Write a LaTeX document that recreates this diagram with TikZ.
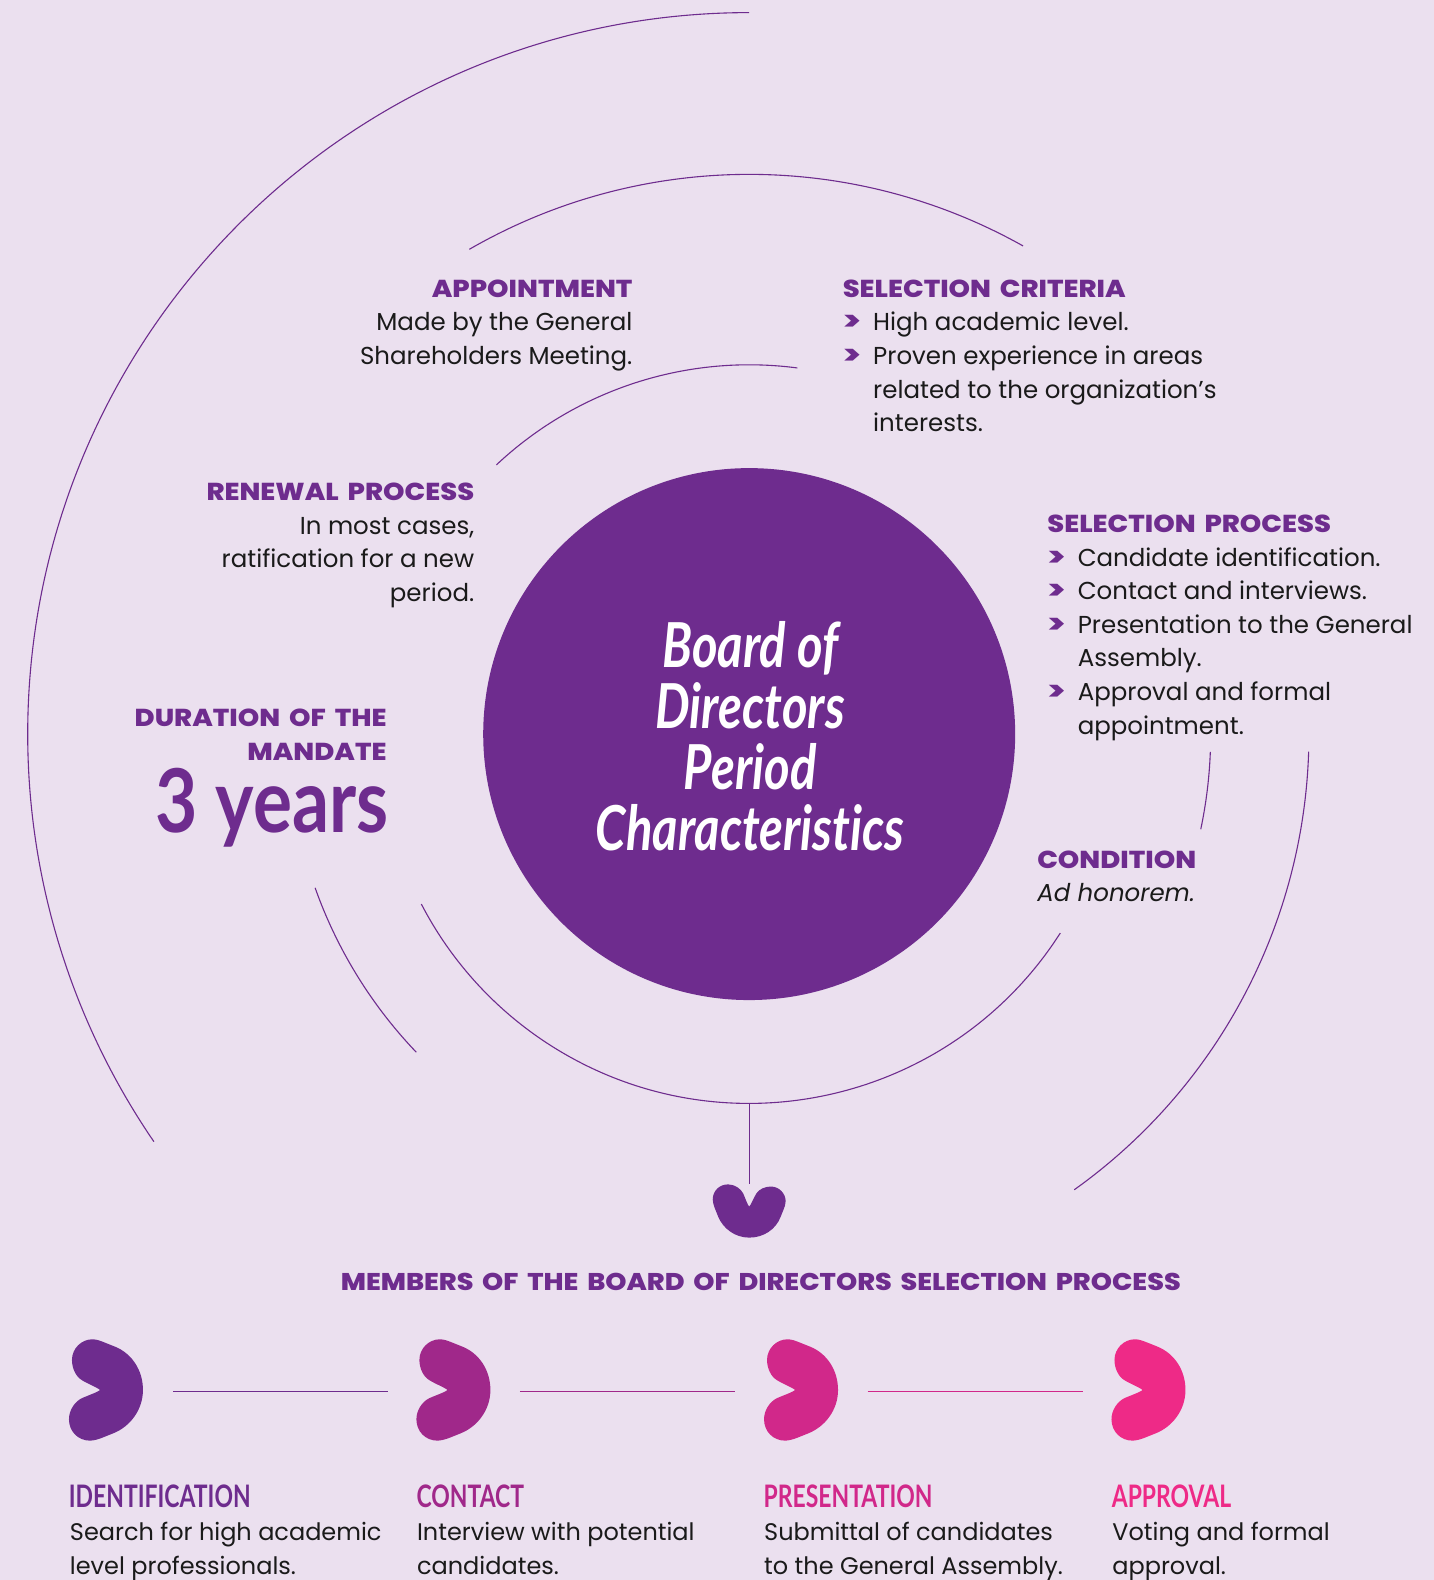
\documentclass[tikz,border=0pt]{standalone}
\usepackage{fontspec}
\setmainfont{Poppins}[ItalicFont=Poppins Italic]
\newfontfamily\hdfont[FakeStretch=1.115,WordSpace=1.7]{Poppins ExtraBold}
\newfontfamily\bulfont[BoldFont=Poppins ExtraBold,FakeStretch=1.3]{Poppins}
\newfontfamily\condfont[FakeStretch=0.83,Ligatures={NoCommon}]{Lato Bold}
\newfontfamily\stepfont[FakeStretch=0.74,Ligatures={NoCommon}]{Lato Bold}
\newfontfamily\condital[FakeStretch=0.79,Ligatures={NoCommon}]{Lato Bold Italic}
\definecolor{bgc}{HTML}{EBE0EF}
\definecolor{pur}{HTML}{6E2C8E}
\definecolor{pb}{HTML}{A0288A}
\definecolor{pc}{HTML}{D1288A}
\definecolor{pd}{HTML}{EE2A87}
\definecolor{ink}{HTML}{1A1A1A}
\newcommand{\blobpath}{(0,0) .. controls (-5,-6) and (-40,-20) .. (-55,-30)
 .. controls (-72,-40) and (-84,-65) .. (-84,-90)
 .. controls (-84,-125) and (-55,-152) .. (-23,-152)
 .. controls (-10,-152) and (0,-148) .. (15,-142)
 -- (45,-130)
 .. controls (95,-110) and (129,-60) .. (129,0)
 .. controls (129,60) and (90,110) .. (40,130)
 -- (5,144)
 .. controls (-5,148) and (-20,152) .. (-30,152)
 .. controls (-65,152) and (-93,125) .. (-93,88)
 .. controls (-93,60) and (-75,35) .. (-55,25)
 .. controls (-40,18) and (-5,6) .. (0,0) -- cycle}
\newcommand{\bul}{\makebox[15.2pt][l]{\textcolor{pur}{\bulfont\bfseries\fontsize{13.5}{13.5}\selectfont>}}}
\newcommand{\ind}{\hspace*{15.2pt}}
\newcommand{\hh}[1]{\textcolor{pur}{\hdfont #1}}
\tikzset{
 x=0.50387pt,y=-0.50387pt,
 ringarc/.style={draw=pur,line width=0.55pt},
 body/.style={inner sep=0pt,text=ink,font=\fontsize{12.25}{16.8}\selectfont},
 bodyr/.style={body,align=right,anchor=base east},
 bodyl/.style={body,align=left,anchor=base west},
 stepbody/.style={inner sep=0pt,text=ink,align=left,anchor=base west,font=\fontsize{12}{16.8}\selectfont},
 steptitle/.style={inner sep=0pt,anchor=base west,font=\stepfont\fontsize{15.5}{17}\selectfont},
 hd/.style={inner sep=0pt,text=pur,font=\hdfont\fontsize{12.1}{16.8}\selectfont},
 steprule/.style={line width=0.55pt},
}
\begin{document}
\begin{tikzpicture}
\path[fill=bgc] (0,0) rectangle (1423,1568);
\useasboundingbox (0,0) rectangle (1423,1568);
\coordinate (c) at (743.5,728.5);
% rings
\draw[ringarc] (c) ++(-90:716) arc[start angle=-90,end angle=-214.4,radius=716];
\draw[ringarc] (c) ++(-60.7:555.5) arc[start angle=-60.7,end angle=-120,radius=555.5];
\draw[ringarc] (c) ++(-82.5:366.5) arc[start angle=-82.5,end angle=-133.2,radius=366.5];
\draw[ringarc] (c) ++(1.8:555.5) arc[start angle=1.8,end angle=54.5,radius=555.5];
\draw[ringarc] (c) ++(2.2:458) arc[start angle=2.2,end angle=11.9,radius=458];
\draw[ringarc] (c) ++(32.6:366.5) arc[start angle=32.6,end angle=152.6,radius=366.5];
\draw[ringarc] (c) ++(-199.5:457) arc[start angle=-199.5,end angle=-223.7,radius=457];
% centre
\node[circle,fill=pur,minimum size=266pt,inner sep=0pt] (hub) at (c) {};
\node[text=white,align=center,inner sep=0pt,font=\condital\fontsize{31}{30.5}\selectfont] (hubtext) at (744.5,731) {Board of\\Directors\\Period\\Characteristics};
% top text
\node[bodyr] (appoint) at (628,361.8) {\hh{APPOINTMENT}\\Made by the General\\Shareholders Meeting.};
\node[bodyl] (criteria) at (836,428.4) {\hh{SELECTION CRITERIA}\\\bul High academic level.\\\bul Proven experience in areas\\\ind related to the organization’s\\\ind interests.};
\node[bodyr] (renewal) at (471,597) {\hh{RENEWAL PROCESS}\\In most cases,\\ratification for a new\\period.};
\node[bodyl] (process) at (1039,728.6) {\hh{SELECTION PROCESS}\\\bul Candidate identification.\\\bul Contact and interviews.\\\bul Presentation to the General\\\ind Assembly.\\\bul Approval and formal\\\ind appointment.};
\node[bodyl] (condition) at (1029,895) {\hh{CONDITION}\\\textit{Ad honorem.}};
\node[bodyr] (duration) at (384,754.5) {\hh{DURATION OF THE}\\\hh{MANDATE}};
\node[inner sep=0pt,anchor=base east,text=pur,font=\condfont\fontsize{44}{44}\selectfont] (years) at (386,826) {3 years};
% bottom heart
\coordinate (stemtop) at (743.5,1095);
\coordinate (stemend) at (743.5,1175);
\draw[ringarc] (stemtop) -- (stemend);
\coordinate (heart) at (743.5,1197.5);
\fill[pur,shift={(heart)},scale=0.238,rotate=-90] \blobpath;
\node[hd,anchor=base] (members) at (755,1281) {MEMBERS OF THE BOARD OF DIRECTORS SELECTION PROCESS};
% steps
\coordinate (b1) at (99.2,1379.4);
\coordinate (b2) at (444,1379.4);
\coordinate (b3) at (789,1379.4);
\coordinate (b4) at (1133.8,1379.4);
\fill[pur,shift={(b1)},scale=0.3308] \blobpath;
\fill[pb,shift={(b2)},scale=0.3308] \blobpath;
\fill[pc,shift={(b3)},scale=0.3308] \blobpath;
\fill[pd,shift={(b4)},scale=0.3308] \blobpath;
\coordinate (l1a) at (172,1381); \coordinate (l1b) at (385,1381);
\coordinate (l2a) at (516,1381); \coordinate (l2b) at (729.5,1381);
\coordinate (l3a) at (861,1381); \coordinate (l3b) at (1074.5,1381);
\draw[steprule,pur] (l1a) -- (l1b);
\draw[steprule,pb] (l2a) -- (l2b);
\draw[steprule,pc] (l3a) -- (l3b);
\node[steptitle,text=pur] (t1) at (68,1495.6) {IDENTIFICATION};
\node[steptitle,text=pb] (t2) at (413,1495.6) {CONTACT};
\node[steptitle,text=pc] (t3) at (757.5,1495.6) {PRESENTATION};
\node[steptitle,text=pd] (t4) at (1103,1495.6) {APPROVAL};
\node[stepbody] (d1) at (69,1562.3) {Search for high academic\\level professionals.};
\node[stepbody] (d2) at (413.5,1562.3) {Interview with potential\\candidates.};
\node[stepbody] (d3) at (758,1562.3) {Submittal of candidates\\to the General Assembly.};
\node[stepbody] (d4) at (1103.5,1562.3) {Voting and formal\\approval.};
\end{tikzpicture}
\end{document}
